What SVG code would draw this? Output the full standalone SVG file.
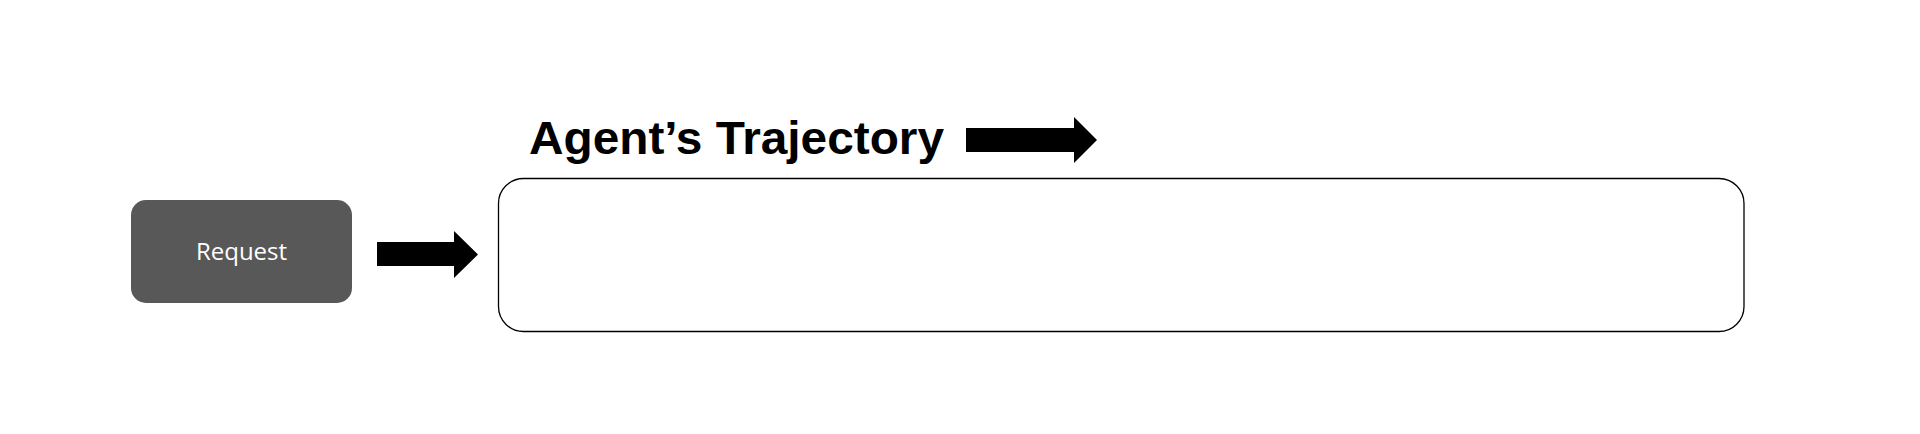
<svg xmlns="http://www.w3.org/2000/svg" width="1920" height="434" viewBox="0 0 1920 434">
<style>
.bg{fill:#ffffff}
.req{fill:#585858;stroke:none}
.reqtxt{fill:#ffffff;font-family:"Open Sans","Noto Sans",sans-serif;font-size:24px}
.traj{fill:#ffffff;stroke:#000000;stroke-width:1.3}
.title{fill:#000000;font-family:"Liberation Sans",Arial,sans-serif;font-weight:bold;font-size:47px}
.arrow{fill:#000000}
</style>
<rect class="bg" x="0" y="0" width="1920" height="434"/>
<g id="request">
<rect class="req" x="131" y="200" width="221" height="103" rx="15" ry="15"/>
<text class="reqtxt" x="241.5" y="260" text-anchor="middle">Request</text>
</g>
<g id="trajectory">
<rect class="traj" x="498.5" y="178.5" width="1245.5" height="153" rx="25" ry="25"/>
<text class="title" x="529" y="154" textLength="415" lengthAdjust="spacingAndGlyphs">Agent’s Trajectory</text>
</g>
<g id="connectors">
<polygon class="arrow" points="377,242 454,242 454,231 478,254.5 454,278 454,266 377,266"/>
<polygon class="arrow" points="966,128 1074,128 1074,117 1097,140 1074,163 1074,152 966,152"/>
</g>
</svg>
